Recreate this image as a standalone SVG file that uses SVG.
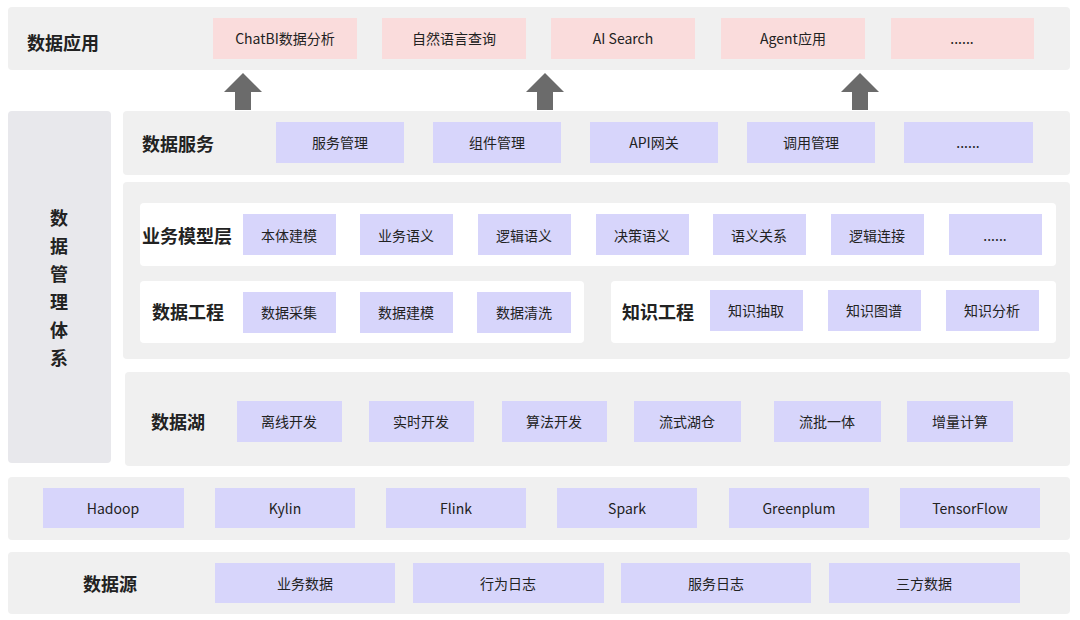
<svg xmlns="http://www.w3.org/2000/svg" width="1080" height="620" viewBox="0 0 1080 620">
<style>
.bg{fill:#f0f0f0}
.w{fill:#ffffff}
.p{fill:#fadcdc}
.b{fill:#d7d5fb}
text{font-family:"Noto Sans CJK SC","Noto Sans",sans-serif;fill:#222;text-anchor:middle;dominant-baseline:central}
.t{font-size:14px}
.h{font-size:18px;font-weight:bold}
.a{fill:#6b6b6b}
</style>
<rect width="1080" height="620" fill="#fff"/>
<g id="app">
<rect class="bg" x="8" y="7" width="1062" height="63" rx="4"/>
<text class="h" x="63" y="42">数据应用</text>
<rect class="p" x="213" y="18" width="144" height="41"/><text class="t" x="285" y="38">ChatBI数据分析</text>
<rect class="p" x="382" y="18" width="144" height="41"/><text class="t" x="454" y="38">自然语言查询</text>
<rect class="p" x="551" y="18" width="144" height="41"/><text class="t" x="623" y="38">AI Search</text>
<rect class="p" x="721" y="18" width="144" height="41"/><text class="t" x="793" y="38">Agent应用</text>
<rect class="p" x="891" y="18" width="143" height="41"/><text class="t" x="962" y="38">......</text>
</g>
<g id="connectors">
<path class="a" d="M224,92 L243,73 L262,92 L251,92 L251,110 L235,110 L235,92 Z"/>
<path class="a" d="M526,92 L545,73 L564,92 L553,92 L553,110 L537,110 L537,92 Z"/>
<path class="a" d="M841,92 L860,73 L879,92 L868,92 L868,110 L852,110 L852,92 Z"/>
</g>
<g id="mgmt">
<rect x="8" y="111" width="103" height="352" rx="4" fill="#e8e8ec"/>
<text class="h" x="59" y="217">数</text><text class="h" x="59" y="245">据</text><text class="h" x="59" y="273">管</text><text class="h" x="59" y="301">理</text><text class="h" x="59" y="329">体</text><text class="h" x="59" y="357">系</text>
</g>
<g id="service">
<rect class="bg" x="123" y="111" width="947" height="64" rx="4"/>
<text class="h" x="178" y="143">数据服务</text>
<rect class="b" x="276" y="122" width="128" height="41"/><text class="t" x="340" y="142">服务管理</text>
<rect class="b" x="433" y="122" width="128" height="41"/><text class="t" x="497" y="142">组件管理</text>
<rect class="b" x="590" y="122" width="128" height="41"/><text class="t" x="654" y="142">API网关</text>
<rect class="b" x="747" y="122" width="128" height="41"/><text class="t" x="811" y="142">调用管理</text>
<rect class="b" x="904" y="122" width="129" height="41"/><text class="t" x="968" y="142">......</text>
</g>
<g id="model">
<rect class="bg" x="123" y="182" width="947" height="177" rx="4"/>
<rect class="w" x="140" y="203" width="916" height="63" rx="4"/>
<text class="h" x="187" y="235">业务模型层</text>
<rect class="b" x="243" y="214" width="93" height="41"/><text class="t" x="289" y="235">本体建模</text>
<rect class="b" x="360" y="214" width="93" height="41"/><text class="t" x="406" y="235">业务语义</text>
<rect class="b" x="478" y="214" width="93" height="41"/><text class="t" x="524" y="235">逻辑语义</text>
<rect class="b" x="596" y="214" width="93" height="41"/><text class="t" x="642" y="235">决策语义</text>
<rect class="b" x="713" y="214" width="93" height="41"/><text class="t" x="759" y="235">语义关系</text>
<rect class="b" x="831" y="214" width="93" height="41"/><text class="t" x="877" y="235">逻辑连接</text>
<rect class="b" x="949" y="214" width="93" height="41"/><text class="t" x="995" y="235">......</text>
<rect class="w" x="140" y="281" width="444" height="62" rx="4"/>
<text class="h" x="188" y="311">数据工程</text>
<rect class="b" x="243" y="292" width="93" height="41"/><text class="t" x="289" y="312">数据采集</text>
<rect class="b" x="360" y="292" width="93" height="41"/><text class="t" x="406" y="312">数据建模</text>
<rect class="b" x="477" y="292" width="94" height="41"/><text class="t" x="524" y="312">数据清洗</text>
<rect class="w" x="611" y="281" width="445" height="62" rx="4"/>
<text class="h" x="658" y="311">知识工程</text>
<rect class="b" x="710" y="290" width="93" height="41"/><text class="t" x="756" y="310">知识抽取</text>
<rect class="b" x="828" y="290" width="93" height="41"/><text class="t" x="874" y="310">知识图谱</text>
<rect class="b" x="946" y="290" width="93" height="41"/><text class="t" x="992" y="310">知识分析</text>
</g>
<g id="lake">
<rect class="bg" x="125" y="372" width="945" height="94" rx="4"/>
<text class="h" x="178" y="421">数据湖</text>
<rect class="b" x="237" y="401" width="105" height="41"/><text class="t" x="289" y="421">离线开发</text>
<rect class="b" x="369" y="401" width="105" height="41"/><text class="t" x="421" y="421">实时开发</text>
<rect class="b" x="502" y="401" width="105" height="41"/><text class="t" x="554" y="421">算法开发</text>
<rect class="b" x="634" y="401" width="107" height="41"/><text class="t" x="687" y="421">流式湖仓</text>
<rect class="b" x="774" y="401" width="107" height="41"/><text class="t" x="827" y="421">流批一体</text>
<rect class="b" x="907" y="401" width="106" height="41"/><text class="t" x="960" y="421">增量计算</text>
</g>
<g id="tech">
<rect class="bg" x="8" y="477" width="1062" height="63" rx="4"/>
<rect class="b" x="43" y="488" width="141" height="40"/><text class="t" x="113" y="508">Hadoop</text>
<rect class="b" x="215" y="488" width="140" height="40"/><text class="t" x="285" y="508">Kylin</text>
<rect class="b" x="386" y="488" width="140" height="40"/><text class="t" x="456" y="508">Flink</text>
<rect class="b" x="557" y="488" width="140" height="40"/><text class="t" x="627" y="508">Spark</text>
<rect class="b" x="729" y="488" width="140" height="40"/><text class="t" x="799" y="508">Greenplum</text>
<rect class="b" x="900" y="488" width="140" height="40"/><text class="t" x="970" y="508">TensorFlow</text>
</g>
<g id="source">
<rect class="bg" x="8" y="552" width="1062" height="62" rx="4"/>
<text class="h" x="110" y="583">数据源</text>
<rect class="b" x="215" y="563" width="180" height="40"/><text class="t" x="305" y="583">业务数据</text>
<rect class="b" x="413" y="563" width="191" height="40"/><text class="t" x="508" y="583">行为日志</text>
<rect class="b" x="621" y="563" width="190" height="40"/><text class="t" x="716" y="583">服务日志</text>
<rect class="b" x="829" y="563" width="191" height="40"/><text class="t" x="924" y="583">三方数据</text>
</g>
</svg>
